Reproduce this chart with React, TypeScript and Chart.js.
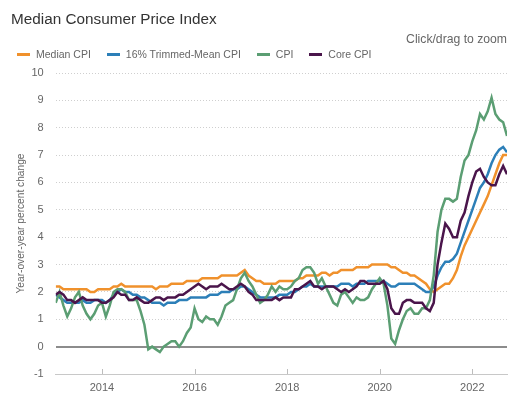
import { useEffect, useRef } from "react";
import { Chart, registerables } from "chart.js";

Chart.register(...registerables);

const startYear = 2013;

const medianCpi = [
  2.2, 2.2, 2.1, 2.1, 2.1, 2.1, 2.1, 2.1, 2.1, 2.0, 2.0, 2.1,
  2.1, 2.1, 2.1, 2.2, 2.2, 2.3, 2.2, 2.2, 2.2, 2.2, 2.2, 2.2,
  2.2, 2.2, 2.1, 2.2, 2.2, 2.2, 2.3, 2.3, 2.3, 2.3, 2.4, 2.4,
  2.4, 2.4, 2.5, 2.5, 2.5, 2.5, 2.5, 2.6, 2.6, 2.6, 2.6, 2.6,
  2.7, 2.8, 2.6, 2.5, 2.4, 2.4, 2.3, 2.3, 2.3, 2.3, 2.4, 2.4,
  2.4, 2.4, 2.4, 2.5, 2.5, 2.6, 2.6, 2.6, 2.6, 2.7, 2.7, 2.6,
  2.7, 2.7, 2.8, 2.8, 2.8, 2.8, 2.9, 2.9, 2.9, 2.9, 3.0, 3.0,
  3.0, 3.0, 3.0, 2.9, 2.9, 2.8, 2.7, 2.7, 2.6, 2.6, 2.5, 2.4,
  2.3, 2.1, 2.0, 2.1, 2.2, 2.3, 2.3, 2.5, 2.8, 3.3, 3.7, 4.0,
  4.3, 4.6, 4.9, 5.2, 5.5, 5.9, 6.3, 6.7, 7.0, 7.0,
];

const trimmedMeanCpi = [
  1.9, 1.8, 1.7, 1.6, 1.6, 1.6, 1.6, 1.7, 1.6, 1.6, 1.7, 1.7,
  1.7, 1.6, 1.7, 1.9, 2.0, 2.1, 2.0, 2.0, 1.9, 1.9, 1.8, 1.8,
  1.7, 1.6, 1.6, 1.6, 1.5, 1.6, 1.6, 1.6, 1.7, 1.7, 1.7, 1.8,
  1.8, 1.8, 1.8, 1.8, 1.9, 1.9, 1.9, 2.0, 2.0, 2.0, 2.1, 2.1,
  2.2, 2.2, 2.1, 2.0, 1.9, 1.8, 1.8, 1.8, 1.8, 1.8, 1.9, 1.9,
  1.9, 2.0, 2.0, 2.1, 2.2, 2.2, 2.3, 2.2, 2.2, 2.2, 2.2, 2.2,
  2.2, 2.2, 2.3, 2.3, 2.3, 2.2, 2.3, 2.3, 2.3, 2.4, 2.4, 2.4,
  2.4, 2.4, 2.3, 2.2, 2.2, 2.3, 2.3, 2.3, 2.3, 2.3, 2.2, 2.1,
  2.0, 2.0, 2.2, 2.6, 2.9, 3.1, 3.1, 3.2, 3.4, 3.8, 4.2, 4.6,
  5.0, 5.4, 5.8, 6.0, 6.3, 6.7, 7.0, 7.2, 7.3, 7.1,
];

const cpi = [
  1.6, 2.0, 1.5, 1.1, 1.4, 1.8, 2.0, 1.5, 1.2, 1.0, 1.2, 1.5,
  1.6, 1.1, 1.5, 2.0, 2.1, 2.1, 2.0, 1.7, 1.7, 1.7, 1.3, 0.8,
  -0.1, 0.0, -0.1, -0.2, 0.0, 0.1, 0.2, 0.2, 0.0, 0.2, 0.5, 0.7,
  1.4, 1.0, 0.9, 1.1, 1.0, 1.0, 0.8, 1.1, 1.5, 1.6, 1.7, 2.1,
  2.5, 2.7, 2.4, 2.2, 1.9, 1.6, 1.7, 1.9, 2.2, 2.0, 2.2, 2.1,
  2.1, 2.2, 2.4, 2.5, 2.8, 2.9, 2.9, 2.7, 2.3, 2.5, 2.2, 1.9,
  1.6, 1.5, 1.9, 2.0, 1.8, 1.6, 1.8, 1.7, 1.7, 1.8, 2.1, 2.3,
  2.5, 2.3, 1.5, 0.3, 0.1, 0.6, 1.0, 1.3, 1.4, 1.2, 1.2, 1.4,
  1.4, 1.7, 2.6, 4.2, 5.0, 5.4, 5.4, 5.3, 5.4, 6.2, 6.8, 7.0,
  7.5, 7.9, 8.5, 8.3, 8.6, 9.1, 8.5, 8.3, 8.2, 7.7,
];

const coreCpi = [
  1.9, 2.0, 1.9, 1.7, 1.7, 1.6, 1.7, 1.8, 1.7, 1.7, 1.7, 1.7,
  1.6, 1.6, 1.7, 1.8, 2.0, 1.9, 1.9, 1.7, 1.7, 1.8, 1.7, 1.6,
  1.6, 1.7, 1.8, 1.8, 1.7, 1.8, 1.8, 1.8, 1.9, 1.9, 2.0, 2.1,
  2.2, 2.3, 2.2, 2.1, 2.2, 2.2, 2.2, 2.3, 2.2, 2.1, 2.1, 2.2,
  2.3, 2.2, 2.0, 1.9, 1.7, 1.7, 1.7, 1.7, 1.7, 1.8, 1.7, 1.8,
  1.8, 1.8, 2.1, 2.1, 2.2, 2.3, 2.4, 2.2, 2.2, 2.1, 2.2, 2.2,
  2.2, 2.1, 2.0, 2.1, 2.0, 2.1, 2.2, 2.4, 2.4, 2.3, 2.3, 2.3,
  2.3, 2.4, 2.1, 1.4, 1.2, 1.2, 1.6, 1.7, 1.7, 1.6, 1.6, 1.6,
  1.4, 1.3, 1.6, 3.0, 3.8, 4.5, 4.3, 4.0, 4.0, 4.6, 4.9, 5.5,
  6.0, 6.4, 6.5, 6.2, 6.0, 5.9, 5.9, 6.3, 6.6, 6.3,
];

const seriesNames = ["Median CPI", "16% Trimmed-Mean CPI", "CPI", "Core CPI"];
const seriesValues = [medianCpi, trimmedMeanCpi, cpi, coreCpi];
const seriesColors = ["#f0912c", "#2c7fb8", "#5b9e73", "#4a154b"];
const xTickYears = [2014, 2016, 2018, 2020, 2022];
const yMin = -1;
const yMax = 10;

const FONT = "'Liberation Sans', Arial, Helvetica, sans-serif";

export default function App() {
  const ref = useRef<HTMLCanvasElement | null>(null);

  useEffect(() => {
    if (!ref.current) return;
    Chart.defaults.font.family = FONT;

    const insideTicks = {
      id: "insideTicks",
      afterDraw(chart: any) {
        const xs = chart.scales.x;
        const { ctx, chartArea } = chart;
        ctx.save();
        ctx.strokeStyle = "#bdbdbd";
        ctx.lineWidth = 1;
        xTickYears.forEach((yr) => {
          const px = Math.round(xs.getPixelForValue(yr)) + 0.5;
          ctx.beginPath();
          ctx.moveTo(px, chartArea.bottom - 5);
          ctx.lineTo(px, chartArea.bottom);
          ctx.stroke();
        });
        ctx.restore();
      },
    };

    const lastIndex = Math.max(...seriesValues.map((s) => s.length)) - 1;

    const chart = new Chart(ref.current, {
      type: "line",
      data: {
        datasets: seriesValues.map((vals, i) => ({
          label: seriesNames[i],
          data: vals.map((v, k) => ({ x: startYear + k / 12, y: v })),
          borderColor: seriesColors[i],
          backgroundColor: seriesColors[i],
          borderWidth: 2.5,
          pointRadius: 0,
          tension: 0,
          fill: false,
          order: seriesNames.length - i,
        })),
      },
      options: {
        animation: false,
        responsive: false,
        maintainAspectRatio: false,
        layout: { padding: { top: 73, left: 4, right: 13, bottom: 5 } },
        plugins: {
          legend: { display: false },
          tooltip: { enabled: false },
          title: { display: false },
        },
        scales: {
          x: {
            type: "linear",
            min: startYear,
            max: startYear + lastIndex / 12,
            grid: { display: false, drawTicks: false },
            border: { display: true, color: "#c8c8c8", width: 1 },
            afterBuildTicks: (axis: any) => {
              axis.ticks = xTickYears.map((v) => ({ value: v }));
            },
            afterFit: (scale: any) => {
              scale.height = 21;
            },
            ticks: {
              color: "#666",
              font: { size: 11, family: FONT },
              padding: 7,
              maxRotation: 0,
              callback: (v: any) => String(v),
            },
          },
          y: {
            min: yMin,
            max: yMax,
            afterFit: (scale: any) => {
              scale.width = 51.7;
            },
            ticks: {
              stepSize: 1,
              color: "#666",
              font: { size: 11, family: FONT },
              padding: 12,
            },
            grid: {
              drawTicks: false,
              color: (c: any) =>
                c.tick && c.tick.value === 0
                  ? "#8c8c8c"
                  : c.tick && c.tick.value === yMin
                  ? "rgba(0,0,0,0)"
                  : "#cfcfcf",
              lineWidth: (c: any) => (c.tick && c.tick.value === 0 ? 2 : 1),
            },
            border: {
              display: false,
              dash: (c: any) => (c.tick && c.tick.value === 0 ? [] : [1, 2]),
            },
            title: {
              display: true,
              text: "Year-over-year percent change",
              color: "#666",
              font: { size: 10.2, family: FONT },
              padding: { top: 11.5, bottom: 5 },
            },
          },
        },
      },
      plugins: [insideTicks],
    } as any);

    return () => chart.destroy();
  }, []);

  return (
    <div
      style={{
        position: "fixed",
        left: 0,
        top: 0,
        width: 520,
        height: 400,
        background: "#fff",
        fontFamily: FONT,
      }}
    >
      <canvas ref={ref} width={520} height={400} style={{ display: "block" }} />
      <div
        style={{
          position: "absolute",
          left: 11,
          top: 9,
          fontSize: 15.3,
          lineHeight: "20px",
          color: "#333",
          whiteSpace: "nowrap",
        }}
      >
        Median Consumer Price Index
      </div>
      <div
        style={{
          position: "absolute",
          right: 13,
          top: 31,
          fontSize: 12.2,
          lineHeight: "16px",
          color: "#666",
          whiteSpace: "nowrap",
        }}
      >
        Click/drag to zoom
      </div>
      <div
        style={{
          position: "absolute",
          left: 17,
          top: 47,
          display: "flex",
          alignItems: "center",
          gap: 16,
          fontSize: 10.5,
          lineHeight: "14px",
          color: "#666",
          whiteSpace: "nowrap",
        }}
      >
        {seriesNames.map((n, i) => (
          <div key={n} style={{ display: "flex", alignItems: "center" }}>
            <span
              style={{
                display: "inline-block",
                width: 13,
                height: 3,
                background: seriesColors[i],
                marginRight: 6,
              }}
            />
            <span>{n}</span>
          </div>
        ))}
      </div>
    </div>
  );
}
